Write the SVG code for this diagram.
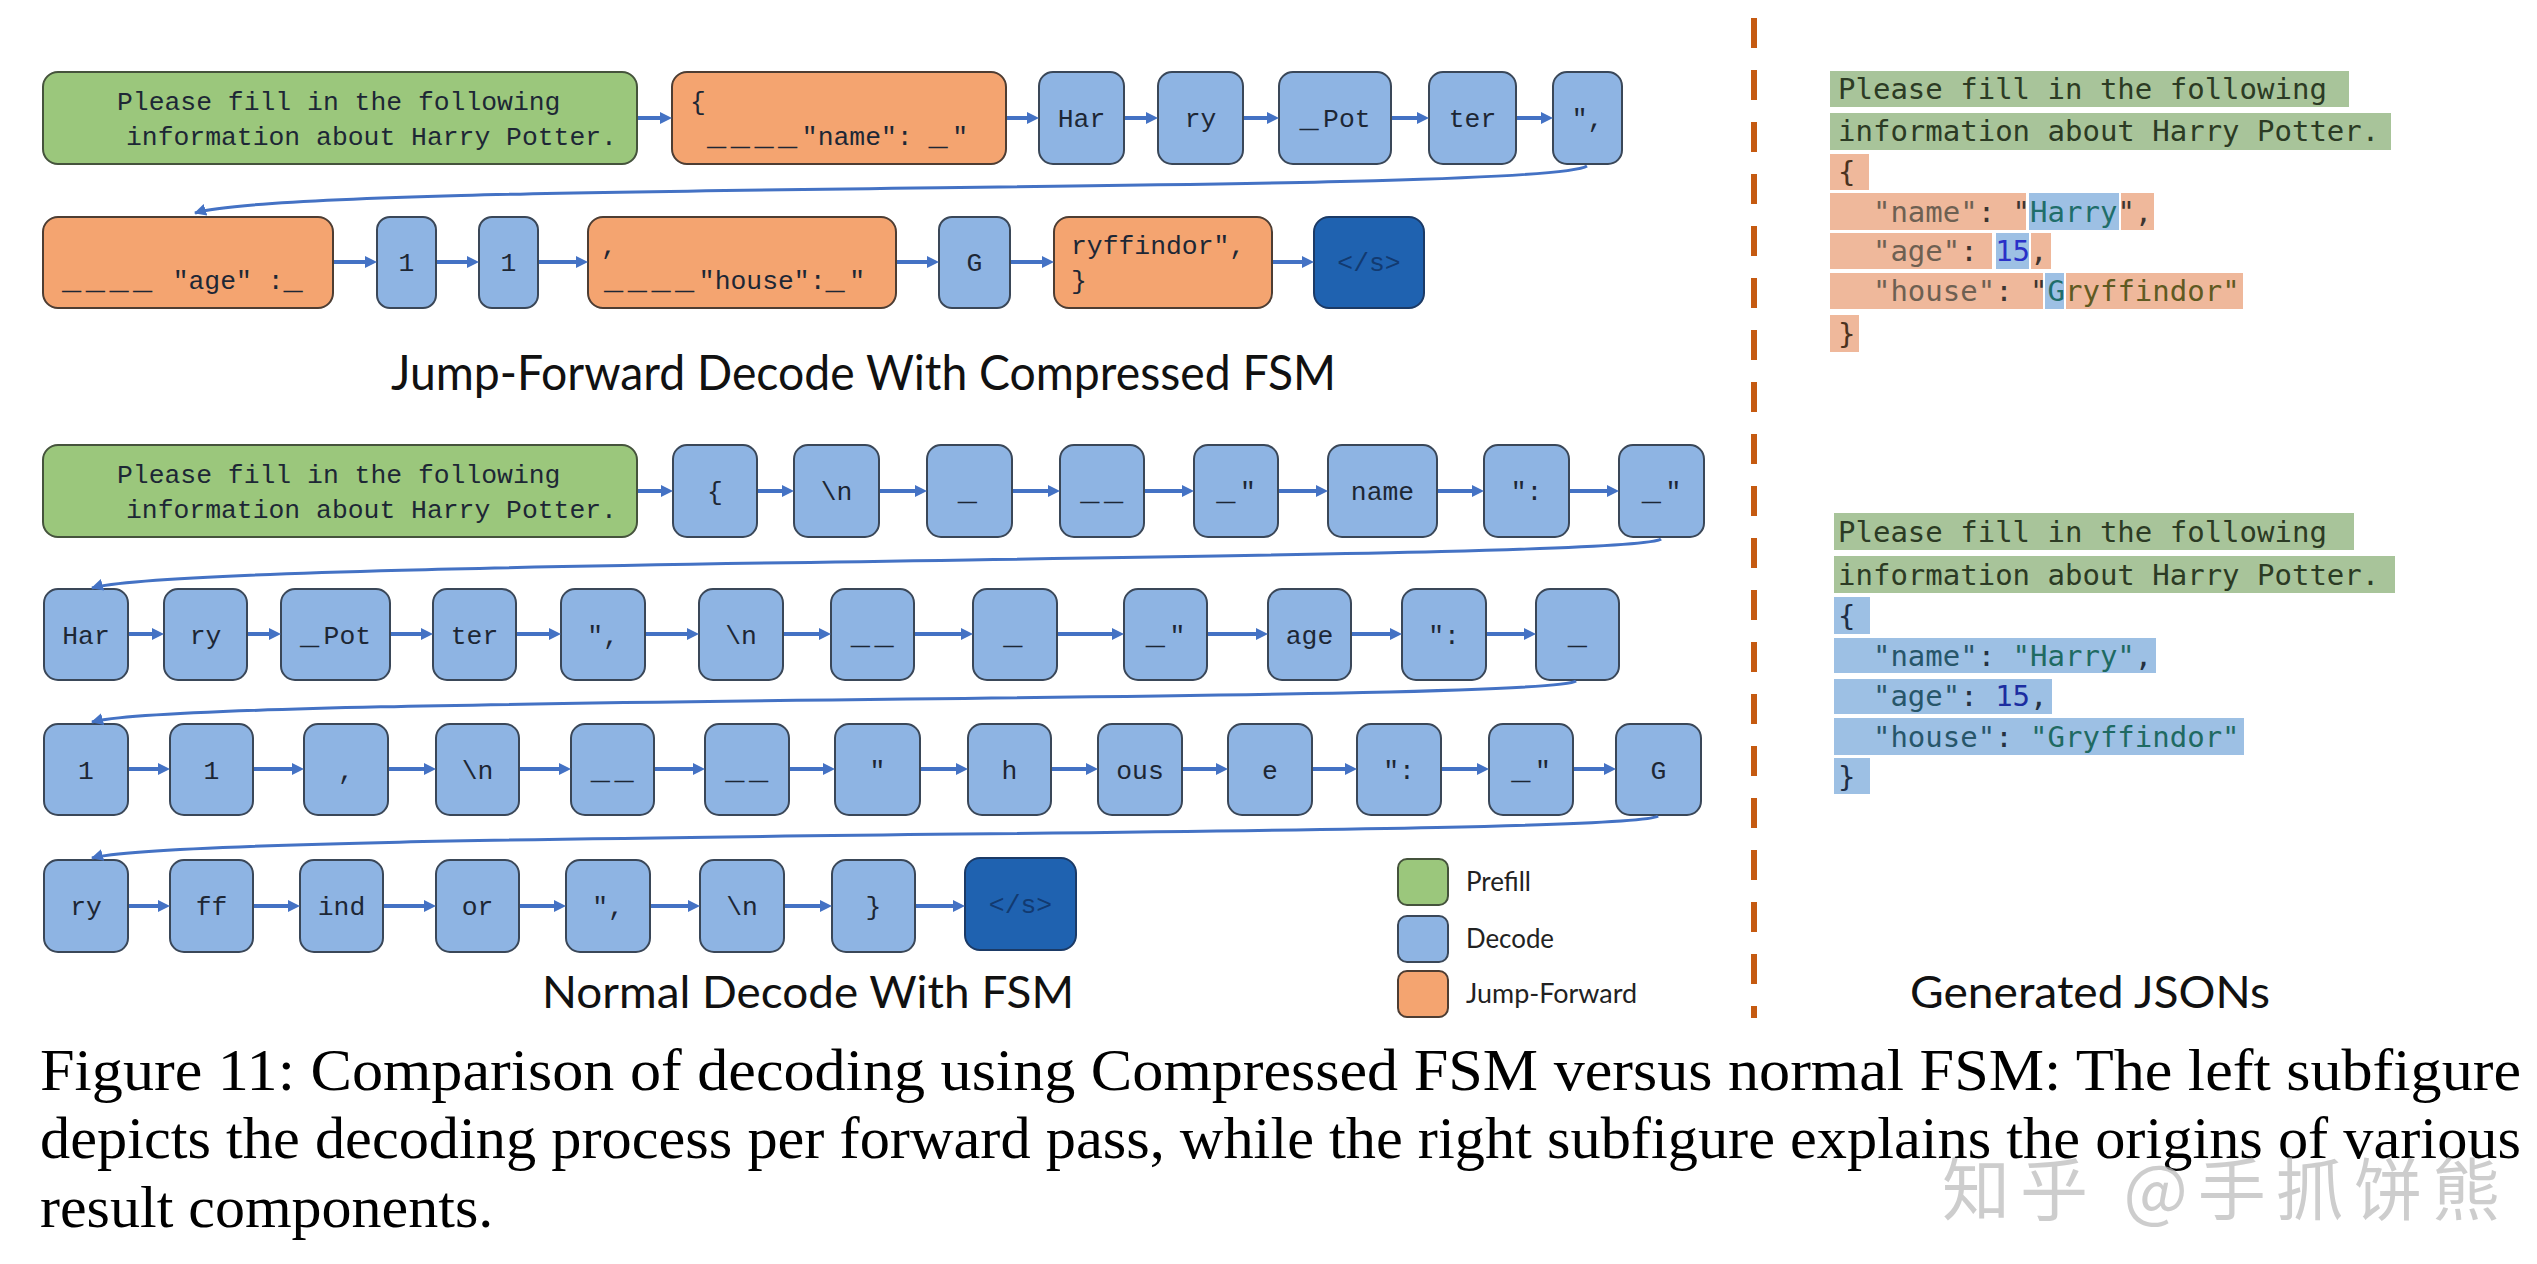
<svg xmlns="http://www.w3.org/2000/svg" width="2537" height="1264" viewBox="0 0 2537 1264">
<style>
.g{fill:#9BC77C;stroke:#45533c;stroke-width:2}
.b{fill:#8EB4E3;stroke:#3a4758;stroke-width:2}
.o{fill:#F4A470;stroke:#4d3d33;stroke-width:2}
.d{fill:#1F62B0;stroke:#1b3a66;stroke-width:2}
.t{font-family:"Liberation Mono",monospace;font-size:26.4px;fill:#1d2735}
.c{text-anchor:middle}
.us{font-size:32px;letter-spacing:4.5px}
.ds{fill:#123a70}
.cn{fill:none;stroke:#4472C4;stroke-width:4}
.cv{fill:none;stroke:#4472C4;stroke-width:3}
.ttl{font-family:Lato,"Liberation Sans",sans-serif;fill:#111}
.lg{font-family:Lato,"Liberation Sans",sans-serif;font-size:26px;fill:#222}
.j{font-family:"DejaVu Sans Mono",monospace;font-size:29px}
.hg{fill:#A8C49A}.ho{fill:#EFB89B}.hb{fill:#9DC0E4}
.cap{font-family:"Liberation Serif","Times New Roman",serif;font-size:60px;fill:#000}
</style>
<defs>
<marker id="ah" viewBox="0 0 12 12" refX="0" refY="6" markerWidth="12" markerHeight="12" markerUnits="userSpaceOnUse" orient="auto"><path d="M0,0 L12,6 L0,12 z" fill="#4472C4"/></marker>
<marker id="ac" viewBox="0 0 12 12" refX="11" refY="6" markerWidth="12" markerHeight="12" markerUnits="userSpaceOnUse" orient="auto"><path d="M0,0 L12,6 L0,12 z" fill="#4472C4"/></marker>
</defs>
<rect width="2537" height="1264" fill="#fff"/>

<!-- ===== Top: Jump-Forward ===== -->
<g id="top-prompt"><rect class="g" x="43" y="72" width="594" height="92" rx="15"/>
<text class="t" x="117" y="110">Please fill in the following</text>
<text class="t" x="126" y="145">information about Harry Potter.</text></g>
<g id="top-jf-name"><rect class="o" x="672" y="72" width="334" height="92" rx="15"/>
<text class="t" x="690" y="110">{</text>
<text class="t" x="707" y="145"><tspan class="us">____</tspan>"name": <tspan class="us">_</tspan>"</text></g>
<g id="top-har"><rect class="b" x="1039" y="72" width="85" height="92" rx="14"/><text class="t c" x="1081.5" y="127">Har</text></g>
<g id="top-ry"><rect class="b" x="1158" y="72" width="85" height="92" rx="14"/><text class="t c" x="1200.5" y="127">ry</text></g>
<g id="top-pot"><rect class="b" x="1279" y="72" width="112" height="92" rx="14"/><text class="t c" x="1335" y="127"><tspan class="us">_</tspan>Pot</text></g>
<g id="top-ter"><rect class="b" x="1429" y="72" width="87" height="92" rx="14"/><text class="t c" x="1472.5" y="127">ter</text></g>
<g id="top-qc"><rect class="b" x="1553" y="72" width="69" height="92" rx="14"/><text class="t c" x="1587.5" y="127">",</text></g>

<g id="top-jf-age"><rect class="o" x="43" y="217" width="290" height="91" rx="15"/>
<text class="t" x="62" y="289" xml:space="preserve"><tspan class="us">____</tspan> "age" :<tspan class="us">_</tspan></text></g>
<g id="top-1a"><rect class="b" x="377" y="217" width="59" height="91" rx="13"/><text class="t c" x="406.5" y="271">1</text></g>
<g id="top-1b"><rect class="b" x="479" y="217" width="59" height="91" rx="13"/><text class="t c" x="508.5" y="271">1</text></g>
<g id="top-jf-house"><rect class="o" x="588" y="217" width="308" height="91" rx="15"/>
<text class="t" x="601" y="254">,</text>
<text class="t" x="604" y="289"><tspan class="us">____</tspan>"house":<tspan class="us">_</tspan>"</text></g>
<g id="top-g"><rect class="b" x="939" y="217" width="71" height="91" rx="13"/><text class="t c" x="974.5" y="271">G</text></g>
<g id="top-jf-ryff"><rect class="o" x="1054" y="217" width="218" height="91" rx="15"/>
<text class="t" x="1071" y="254">ryffindor",</text>
<text class="t" x="1071" y="289">}</text></g>
<g id="top-eos"><rect class="d" x="1314" y="217" width="110" height="91" rx="15"/><text class="t c ds" x="1369" y="271">&lt;/s&gt;</text></g>

<text id="title-jf" class="ttl" x="391" y="390" font-size="48" textLength="945" lengthAdjust="spacingAndGlyphs">Jump-Forward Decode With Compressed FSM</text>

<!-- ===== Bottom: Normal ===== -->
<g id="n-prompt"><rect class="g" x="43" y="445" width="594" height="92" rx="15"/>
<text class="t" x="117" y="483">Please fill in the following</text>
<text class="t" x="126" y="518">information about Harry Potter.</text></g>
<g id="n1-1"><rect class="b" x="673" y="445" width="84" height="92" rx="14"/><text class="t c" x="715" y="500">{</text></g>
<g id="n1-2"><rect class="b" x="794" y="445" width="85" height="92" rx="14"/><text class="t c" x="836.5" y="500">\n</text></g>
<g id="n1-3"><rect class="b" x="927" y="445" width="85" height="92" rx="14"/><text class="t c" x="969.5" y="500"><tspan class="us">_</tspan></text></g>
<g id="n1-4"><rect class="b" x="1060" y="445" width="84" height="92" rx="14"/><text class="t c" x="1104" y="500"><tspan class="us">__</tspan></text></g>
<g id="n1-5"><rect class="b" x="1194" y="445" width="84" height="92" rx="14"/><text class="t c" x="1236" y="500"><tspan class="us">_</tspan>"</text></g>
<g id="n1-6"><rect class="b" x="1328" y="445" width="109" height="92" rx="14"/><text class="t c" x="1382.5" y="500">name</text></g>
<g id="n1-7"><rect class="b" x="1484" y="445" width="85" height="92" rx="14"/><text class="t c" x="1526.5" y="500">":</text></g>
<g id="n1-8"><rect class="b" x="1619" y="445" width="85" height="92" rx="14"/><text class="t c" x="1661.5" y="500"><tspan class="us">_</tspan>"</text></g>

<g id="n2-1"><rect class="b" x="44" y="589" width="84" height="91" rx="14"/><text class="t c" x="86" y="644">Har</text></g>
<g id="n2-2"><rect class="b" x="164" y="589" width="83" height="91" rx="14"/><text class="t c" x="205.5" y="644">ry</text></g>
<g id="n2-3"><rect class="b" x="281" y="589" width="109" height="91" rx="14"/><text class="t c" x="335.5" y="644"><tspan class="us">_</tspan>Pot</text></g>
<g id="n2-4"><rect class="b" x="433" y="589" width="83" height="91" rx="14"/><text class="t c" x="474.5" y="644">ter</text></g>
<g id="n2-5"><rect class="b" x="561" y="589" width="84" height="91" rx="14"/><text class="t c" x="603" y="644">",</text></g>
<g id="n2-6"><rect class="b" x="699" y="589" width="84" height="91" rx="14"/><text class="t c" x="741" y="644">\n</text></g>
<g id="n2-7"><rect class="b" x="831" y="589" width="83" height="91" rx="14"/><text class="t c" x="874.5" y="644"><tspan class="us">__</tspan></text></g>
<g id="n2-8"><rect class="b" x="973" y="589" width="84" height="91" rx="14"/><text class="t c" x="1015" y="644"><tspan class="us">_</tspan></text></g>
<g id="n2-9"><rect class="b" x="1124" y="589" width="83" height="91" rx="14"/><text class="t c" x="1165.5" y="644"><tspan class="us">_</tspan>"</text></g>
<g id="n2-10"><rect class="b" x="1268" y="589" width="83" height="91" rx="14"/><text class="t c" x="1309.5" y="644">age</text></g>
<g id="n2-11"><rect class="b" x="1402" y="589" width="84" height="91" rx="14"/><text class="t c" x="1444" y="644">":</text></g>
<g id="n2-12"><rect class="b" x="1536" y="589" width="83" height="91" rx="14"/><text class="t c" x="1579.5" y="644"><tspan class="us">_</tspan></text></g>

<g id="n3-1"><rect class="b" x="44" y="724" width="84" height="91" rx="14"/><text class="t c" x="86" y="779">1</text></g>
<g id="n3-2"><rect class="b" x="170" y="724" width="83" height="91" rx="14"/><text class="t c" x="211.5" y="779">1</text></g>
<g id="n3-3"><rect class="b" x="304" y="724" width="84" height="91" rx="14"/><text class="t c" x="346" y="779">,</text></g>
<g id="n3-4"><rect class="b" x="436" y="724" width="83" height="91" rx="14"/><text class="t c" x="477.5" y="779">\n</text></g>
<g id="n3-5"><rect class="b" x="571" y="724" width="83" height="91" rx="14"/><text class="t c" x="614.5" y="779"><tspan class="us">__</tspan></text></g>
<g id="n3-6"><rect class="b" x="705" y="724" width="84" height="91" rx="14"/><text class="t c" x="749" y="779"><tspan class="us">__</tspan></text></g>
<g id="n3-7"><rect class="b" x="835" y="724" width="85" height="91" rx="14"/><text class="t c" x="877.5" y="779">"</text></g>
<g id="n3-8"><rect class="b" x="968" y="724" width="83" height="91" rx="14"/><text class="t c" x="1009.5" y="779">h</text></g>
<g id="n3-9"><rect class="b" x="1098" y="724" width="84" height="91" rx="14"/><text class="t c" x="1140" y="779">ous</text></g>
<g id="n3-10"><rect class="b" x="1228" y="724" width="84" height="91" rx="14"/><text class="t c" x="1270" y="779">e</text></g>
<g id="n3-11"><rect class="b" x="1357" y="724" width="84" height="91" rx="14"/><text class="t c" x="1399" y="779">":</text></g>
<g id="n3-12"><rect class="b" x="1489" y="724" width="84" height="91" rx="14"/><text class="t c" x="1531" y="779"><tspan class="us">_</tspan>"</text></g>
<g id="n3-13"><rect class="b" x="1616" y="724" width="85" height="91" rx="14"/><text class="t c" x="1658.5" y="779">G</text></g>

<g id="n4-1"><rect class="b" x="44" y="860" width="84" height="92" rx="14"/><text class="t c" x="86" y="915">ry</text></g>
<g id="n4-2"><rect class="b" x="170" y="860" width="83" height="92" rx="14"/><text class="t c" x="211.5" y="915">ff</text></g>
<g id="n4-3"><rect class="b" x="300" y="860" width="83" height="92" rx="14"/><text class="t c" x="341.5" y="915">ind</text></g>
<g id="n4-4"><rect class="b" x="436" y="860" width="83" height="92" rx="14"/><text class="t c" x="477.5" y="915">or</text></g>
<g id="n4-5"><rect class="b" x="566" y="860" width="84" height="92" rx="14"/><text class="t c" x="608" y="915">",</text></g>
<g id="n4-6"><rect class="b" x="700" y="860" width="84" height="92" rx="14"/><text class="t c" x="742" y="915">\n</text></g>
<g id="n4-7"><rect class="b" x="832" y="860" width="83" height="92" rx="14"/><text class="t c" x="873.5" y="915">}</text></g>
<g id="n4-8"><rect class="d" x="965" y="858" width="111" height="92" rx="15"/><text class="t c ds" x="1020.5" y="913">&lt;/s&gt;</text></g>

<text id="title-normal" class="ttl" x="542" y="1008" font-size="44" textLength="532" lengthAdjust="spacingAndGlyphs">Normal Decode With FSM</text>

<!-- Legend -->
<g id="legend">
<rect class="g" x="1398" y="859" width="50" height="46" rx="9"/>
<rect class="b" x="1398" y="916" width="50" height="46" rx="9"/>
<rect class="o" x="1398" y="971" width="50" height="46" rx="9"/>
<text class="lg" x="1466" y="891" textLength="65" lengthAdjust="spacingAndGlyphs">Prefill</text>
<text class="lg" x="1466" y="948" textLength="88" lengthAdjust="spacingAndGlyphs">Decode</text>
<text class="lg" x="1466" y="1003" textLength="171" lengthAdjust="spacingAndGlyphs">Jump-Forward</text>
</g>

<!-- Connectors -->
<g id="connectors">
<path class="cn" marker-end="url(#ah)" d="M638,118H660"/>
<path class="cn" marker-end="url(#ah)" d="M1007,118H1027"/>
<path class="cn" marker-end="url(#ah)" d="M1125,118H1146"/>
<path class="cn" marker-end="url(#ah)" d="M1244,118H1267"/>
<path class="cn" marker-end="url(#ah)" d="M1392,118H1417"/>
<path class="cn" marker-end="url(#ah)" d="M1517,118H1541"/>
<path class="cn" marker-end="url(#ah)" d="M334,262H365"/>
<path class="cn" marker-end="url(#ah)" d="M437,262H467"/>
<path class="cn" marker-end="url(#ah)" d="M539,262H576"/>
<path class="cn" marker-end="url(#ah)" d="M897,262H927"/>
<path class="cn" marker-end="url(#ah)" d="M1011,262H1042"/>
<path class="cn" marker-end="url(#ah)" d="M1273,262H1302"/>

<path class="cn" marker-end="url(#ah)" d="M638,491H661"/>
<path class="cn" marker-end="url(#ah)" d="M758,491H782"/>
<path class="cn" marker-end="url(#ah)" d="M880,491H915"/>
<path class="cn" marker-end="url(#ah)" d="M1013,491H1048"/>
<path class="cn" marker-end="url(#ah)" d="M1145,491H1182"/>
<path class="cn" marker-end="url(#ah)" d="M1279,491H1316"/>
<path class="cn" marker-end="url(#ah)" d="M1438,491H1472"/>
<path class="cn" marker-end="url(#ah)" d="M1570,491H1607"/>

<path class="cn" marker-end="url(#ah)" d="M129,634H152"/>
<path class="cn" marker-end="url(#ah)" d="M248,634H269"/>
<path class="cn" marker-end="url(#ah)" d="M391,634H421"/>
<path class="cn" marker-end="url(#ah)" d="M517,634H549"/>
<path class="cn" marker-end="url(#ah)" d="M646,634H687"/>
<path class="cn" marker-end="url(#ah)" d="M784,634H819"/>
<path class="cn" marker-end="url(#ah)" d="M915,634H961"/>
<path class="cn" marker-end="url(#ah)" d="M1058,634H1112"/>
<path class="cn" marker-end="url(#ah)" d="M1208,634H1256"/>
<path class="cn" marker-end="url(#ah)" d="M1352,634H1390"/>
<path class="cn" marker-end="url(#ah)" d="M1487,634H1524"/>

<path class="cn" marker-end="url(#ah)" d="M129,769H158"/>
<path class="cn" marker-end="url(#ah)" d="M254,769H292"/>
<path class="cn" marker-end="url(#ah)" d="M389,769H424"/>
<path class="cn" marker-end="url(#ah)" d="M520,769H559"/>
<path class="cn" marker-end="url(#ah)" d="M655,769H693"/>
<path class="cn" marker-end="url(#ah)" d="M790,769H823"/>
<path class="cn" marker-end="url(#ah)" d="M921,769H956"/>
<path class="cn" marker-end="url(#ah)" d="M1052,769H1086"/>
<path class="cn" marker-end="url(#ah)" d="M1183,769H1216"/>
<path class="cn" marker-end="url(#ah)" d="M1313,769H1345"/>
<path class="cn" marker-end="url(#ah)" d="M1442,769H1477"/>
<path class="cn" marker-end="url(#ah)" d="M1574,769H1604"/>

<path class="cn" marker-end="url(#ah)" d="M129,906H158"/>
<path class="cn" marker-end="url(#ah)" d="M254,906H288"/>
<path class="cn" marker-end="url(#ah)" d="M384,906H424"/>
<path class="cn" marker-end="url(#ah)" d="M520,906H554"/>
<path class="cn" marker-end="url(#ah)" d="M651,906H688"/>
<path class="cn" marker-end="url(#ah)" d="M785,906H820"/>
<path class="cn" marker-end="url(#ah)" d="M916,906H953"/>

<path class="cv" marker-end="url(#ac)" d="M1587,166 C1540,195 300,180 195,213"/>
<path class="cv" marker-end="url(#ac)" d="M1661,539 C1631,562 192,558 92,588"/>
<path class="cv" marker-end="url(#ac)" d="M1576,681 C1546,703 192,695 92,722"/>
<path class="cv" marker-end="url(#ac)" d="M1658,816 C1628,838 192,830 92,858"/>
</g>

<!-- Divider -->
<line x1="1754" y1="18" x2="1754" y2="1018" stroke="#C55A11" stroke-width="6" stroke-dasharray="30 22"/>

<!-- JSON 1 -->
<g id="json-jf">
<rect class="hg" x="1830" y="71" width="519" height="36"/>
<rect class="hg" x="1830" y="113" width="561" height="37"/>
<rect class="ho" x="1830" y="154" width="39" height="36"/>
<rect class="ho" x="1830" y="193" width="196" height="37"/><rect class="hb" x="2029" y="193" width="90" height="37"/><rect class="ho" x="2121" y="193" width="33" height="37"/>
<rect class="ho" x="1830" y="233" width="162" height="36"/><rect class="hb" x="1996" y="233" width="33" height="36"/><rect class="ho" x="2031" y="233" width="20" height="36"/>
<rect class="ho" x="1830" y="273" width="213" height="36"/><rect class="hb" x="2045" y="273" width="19" height="36"/><rect class="ho" x="2066" y="273" width="177" height="36"/>
<rect class="ho" x="1830" y="315" width="29" height="37"/>
<text class="j" x="1838" y="99" fill="#2c3b24">Please fill in the following</text>
<text class="j" x="1838" y="141" fill="#2c3b24">information about Harry Potter.</text>
<text class="j" x="1838" y="182" fill="#4a3220">{</text>
<text class="j" x="1838" y="222" xml:space="preserve" fill="#3d3530">  <tspan fill="#6e6052">"name"</tspan>: "<tspan fill="#1f6e6a">Harry</tspan>",</text>
<text class="j" x="1838" y="261" xml:space="preserve" fill="#3d3530">  <tspan fill="#6e6052">"age"</tspan>: <tspan fill="#2a30c8">15</tspan>,</text>
<text class="j" x="1838" y="301" xml:space="preserve" fill="#3d3530">  <tspan fill="#6e6052">"house"</tspan>: "<tspan fill="#1f6e6a">G</tspan><tspan fill="#5f5a22">ryffindor"</tspan></text>
<text class="j" x="1838" y="344" fill="#4a3220">}</text>
</g>

<!-- JSON 2 -->
<g id="json-normal">
<rect class="hg" x="1834" y="513" width="520" height="37"/>
<rect class="hg" x="1834" y="556" width="561" height="37"/>
<rect class="hb" x="1834" y="597" width="36" height="37"/>
<rect class="hb" x="1834" y="638" width="322" height="35"/>
<rect class="hb" x="1834" y="679" width="218" height="35"/>
<rect class="hb" x="1834" y="718" width="410" height="37"/>
<rect class="hb" x="1834" y="758" width="36" height="36"/>
<text class="j" x="1838" y="542" fill="#2c3b24">Please fill in the following</text>
<text class="j" x="1838" y="585" fill="#2c3b24">information about Harry Potter.</text>
<text class="j" x="1838" y="626" fill="#1d2d45">{</text>
<text class="j" x="1838" y="666" xml:space="preserve" fill="#243040">  <tspan fill="#27566a">"name"</tspan>: <tspan fill="#1f6a62">"Harry"</tspan>,</text>
<text class="j" x="1838" y="706" xml:space="preserve" fill="#243040">  <tspan fill="#27566a">"age"</tspan>: <tspan fill="#1c2da0">15</tspan>,</text>
<text class="j" x="1838" y="747" xml:space="preserve" fill="#243040">  <tspan fill="#27566a">"house"</tspan>: <tspan fill="#1f6a62">"Gryffindor"</tspan></text>
<text class="j" x="1838" y="787" fill="#1d2d45">}</text>
</g>

<text id="title-json" class="ttl" x="1910" y="1008" font-size="44" textLength="360" lengthAdjust="spacingAndGlyphs">Generated JSONs</text>

<!-- Caption -->
<text class="cap" x="40" y="1090" textLength="2481" lengthAdjust="spacingAndGlyphs">Figure 11: Comparison of decoding using Compressed FSM versus normal FSM: The left subfigure</text>
<text class="cap" x="40" y="1158" textLength="2481" lengthAdjust="spacingAndGlyphs">depicts the decoding process per forward pass, while the right subfigure explains the origins of various</text>
<text class="cap" x="40" y="1227">result components.</text>
<text x="1942" y="1215" font-family="'Noto Sans CJK SC',sans-serif" font-size="68" fill="#bdbdbd" opacity="0.75" textLength="558" lengthAdjust="spacing">知乎 @手抓饼熊</text>
</svg>
